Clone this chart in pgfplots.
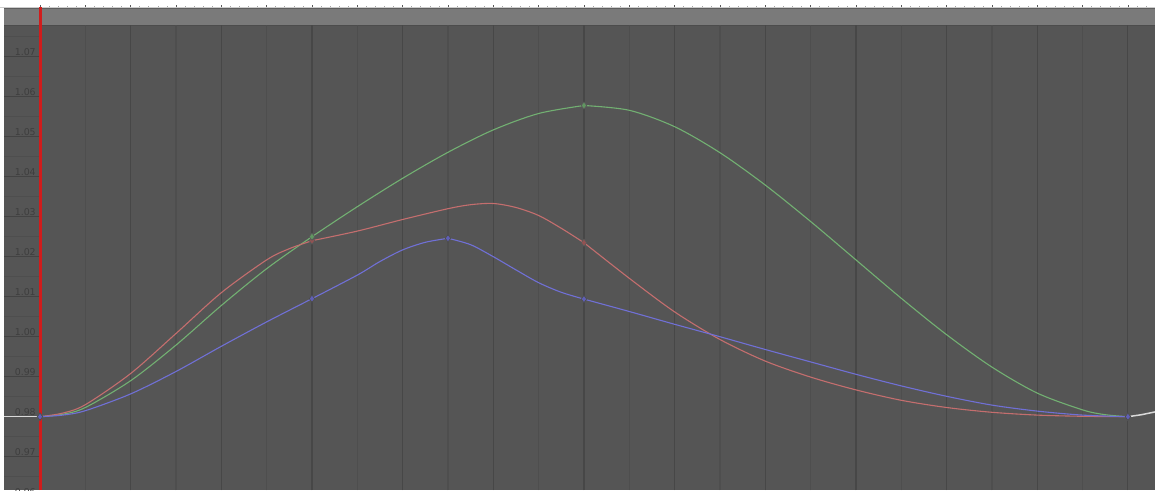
\documentclass[border=0pt]{standalone}
\usepackage{fontspec}
\setmainfont{DejaVu Sans}
\usepackage{pgfplots}
\pgfplotsset{compat=1.18}

\definecolor{bg}{HTML}{555555}
\definecolor{hdr}{HTML}{7A7A7A}
\definecolor{hdrline}{HTML}{4C4C4C}
\definecolor{gmajor}{HTML}{474747}
\definecolor{gminor}{HTML}{4E4E4E}
\definecolor{lbl}{HTML}{3E3E3E}
\definecolor{cgreen}{HTML}{72B072}
\definecolor{cred}{HTML}{C46E6E}
\definecolor{cblue}{HTML}{7070D6}
\definecolor{now}{HTML}{D01C1C}

\begin{document}
\begin{tikzpicture}
\begin{axis}[
  width=1155bp, height=490bp, scale only axis,
  xmin=-0.8824, xmax=24.597,
  ymin=0.961675, ymax=1.084175,
  axis lines=none, clip=true,
  every axis plot/.append style={line width=1.1bp},
  ]
  % editor background
  \fill[white] (axis cs:-0.8824,0.961675) rectangle (axis cs:24.597,1.084175);
  \fill[bg] (axis cs:-0.794,0.961675) rectangle (axis cs:24.597,1.0779);
  \fill[hdr] (axis cs:-0.794,1.0779) rectangle (axis cs:24.597,1.0822);
  \draw[hdrline, line width=1bp] (axis cs:-0.794,1.0779) -- (axis cs:24.597,1.0779);
  \draw[hdrline!60!hdr, line width=0.6bp] (axis cs:-0.794,1.0821) -- (axis cs:24.597,1.0821);

  % frame grid
  \pgfplotsinvokeforeach{1,3,...,23}{
    \draw[gminor, line width=1.1bp] (axis cs:#1,0.961675) -- (axis cs:#1,1.0779);}
  \pgfplotsinvokeforeach{2,4,...,24}{
    \draw[gmajor, line width=1.1bp] (axis cs:#1,0.961675) -- (axis cs:#1,1.0779);}

  % ruler ticks at the top
  \draw[black!20, line width=0.6bp] (axis cs:-0.8824,1.08235) -- (axis cs:24.597,1.08235);
  \pgfplotsinvokeforeach{0,...,24}{
    \draw[black!65, line width=0.8bp] (axis cs:#1,1.0823) -- (axis cs:#1,1.0829);
    \draw[black!35, line width=0.6bp] (axis cs:#1.2,1.0823) -- (axis cs:#1.2,1.0826);
    \draw[black!35, line width=0.6bp] (axis cs:#1.4,1.0823) -- (axis cs:#1.4,1.0826);
    \draw[black!35, line width=0.6bp] (axis cs:#1.6,1.0823) -- (axis cs:#1.6,1.0826);
    \draw[black!35, line width=0.6bp] (axis cs:#1.8,1.0823) -- (axis cs:#1.8,1.0826);}

  % value ruler on the left
  \pgfplotsinvokeforeach{0.965,0.975,0.985,0.995,1.005,1.015,1.025,1.035,1.045,1.055,1.065,1.075}{
    \draw[gminor, line width=0.8bp] (axis cs:-0.794,#1) -- (axis cs:-0.02,#1);}
  \pgfplotsinvokeforeach{0.96,0.97,0.98,0.99,1.00,1.01,1.02,1.03,1.04,1.05,1.06,1.07}{
    \draw[lbl!80!bg, line width=0.9bp] (axis cs:-0.794,#1) -- (axis cs:-0.02,#1);
    \node[anchor=base east, text=lbl, inner sep=0pt, yshift=1.6bp,
      font=\fontsize{9.4bp}{10bp}\selectfont] at (axis cs:-0.09,#1) {#1};}

  % current frame
  \draw[now, line width=2.2bp] (axis cs:0.01,0.961675) -- (axis cs:0.01,1.0823);

  % extrapolation
  \addplot[white!85!black, line width=1.5bp] coordinates {(-0.794,0.98) (0,0.98)};
  \addplot[white!85!black, line width=1.5bp] coordinates {(24,0.98) (24.3,0.9805) (24.6,0.9812)};

  % green channel
  \addplot[cgreen, smooth] coordinates {
    (0,0.9800) (0.5,0.9806) (1,0.9823) (2,0.9890) (3,0.9979) (4,1.0078) (5,1.0170) (6,1.0250)
    (7,1.0325) (8,1.0396) (9,1.0461) (10,1.0517) (11,1.0558) (12,1.0578)};
  \addplot[cgreen, smooth] coordinates {
    (12,1.0578) (13,1.0566) (14,1.0525) (15,1.0460) (16,1.0379) (17,1.0288)
    (18,1.0192) (19,1.0096) (20,1.0005) (21,0.9924) (22,0.9859) (23,0.9817) (23.5,0.9805) (24,0.9800)};

  % red channel
  \addplot[cred, smooth] coordinates {
    (0,0.9800) (0.5,0.9809) (1,0.9830) (2,0.9908) (3,1.0008) (4,1.0110) (5,1.0192) (5.5,1.0220) (6,1.0240)};
  \addplot[cred, smooth] coordinates {
    (6,1.0240) (7,1.0264) (8,1.0293) (9,1.0320) (9.5,1.0330) (10,1.0333)
    (10.5,1.0323) (11,1.0303) (11.5,1.0271) (12,1.0235)};
  \addplot[cred, smooth] coordinates {
    (12,1.0235) (13,1.0146) (14,1.0062) (15,0.9993) (16,0.9939) (17,0.9899)
    (18,0.9867) (19,0.9841) (20,0.9823) (21,0.9811) (22,0.9804) (23,0.9801) (24,0.9800)};

  % blue channel
  \addplot[cblue, smooth] coordinates {
    (0,0.9800) (0.5,0.9804) (1,0.9815) (2,0.9857) (3,0.9913) (4,0.9976) (5,1.0037) (6,1.0095)};
  \addplot[cblue, smooth] coordinates {
    (6,1.0095) (7,1.0154) (7.5,1.0188) (8,1.0217) (8.5,1.0236) (9,1.0246)};
  \addplot[cblue, smooth] coordinates {
    (9,1.0246) (9.5,1.0230) (10,1.0200) (10.5,1.0167) (11,1.0135) (11.5,1.0111) (12,1.0094)};
  \addplot[cblue, smooth] coordinates {
    (12,1.0094) (13,1.0063) (14,1.0031) (15,1.0000) (16,0.9968) (17,0.9937)
    (18,0.9906) (19,0.9877) (20,0.9851) (21,0.9829) (22,0.9814) (23,0.9804) (24,0.9800)};

  % keyframes
  \addplot[only marks, mark=diamond*, mark size=3.6bp,
    mark options={fill=cred!75!black, draw=black!65, line width=0.6bp}]
    coordinates {(0,0.98) (6,1.0240) (12,1.0235) (24,0.98)};
  \addplot[only marks, mark=diamond*, mark size=3.6bp,
    mark options={fill=cgreen!85!black, draw=black!65, line width=0.6bp}]
    coordinates {(0,0.98) (6,1.0250) (12,1.0578) (24,0.98)};
  \addplot[only marks, mark=diamond*, mark size=3.6bp,
    mark options={fill=cblue!85!black, draw=black!70, line width=0.6bp}]
    coordinates {(0,0.98) (6,1.0095) (9,1.0246) (12,1.0094) (24,0.98)};
\end{axis}
\end{tikzpicture}
\end{document}
